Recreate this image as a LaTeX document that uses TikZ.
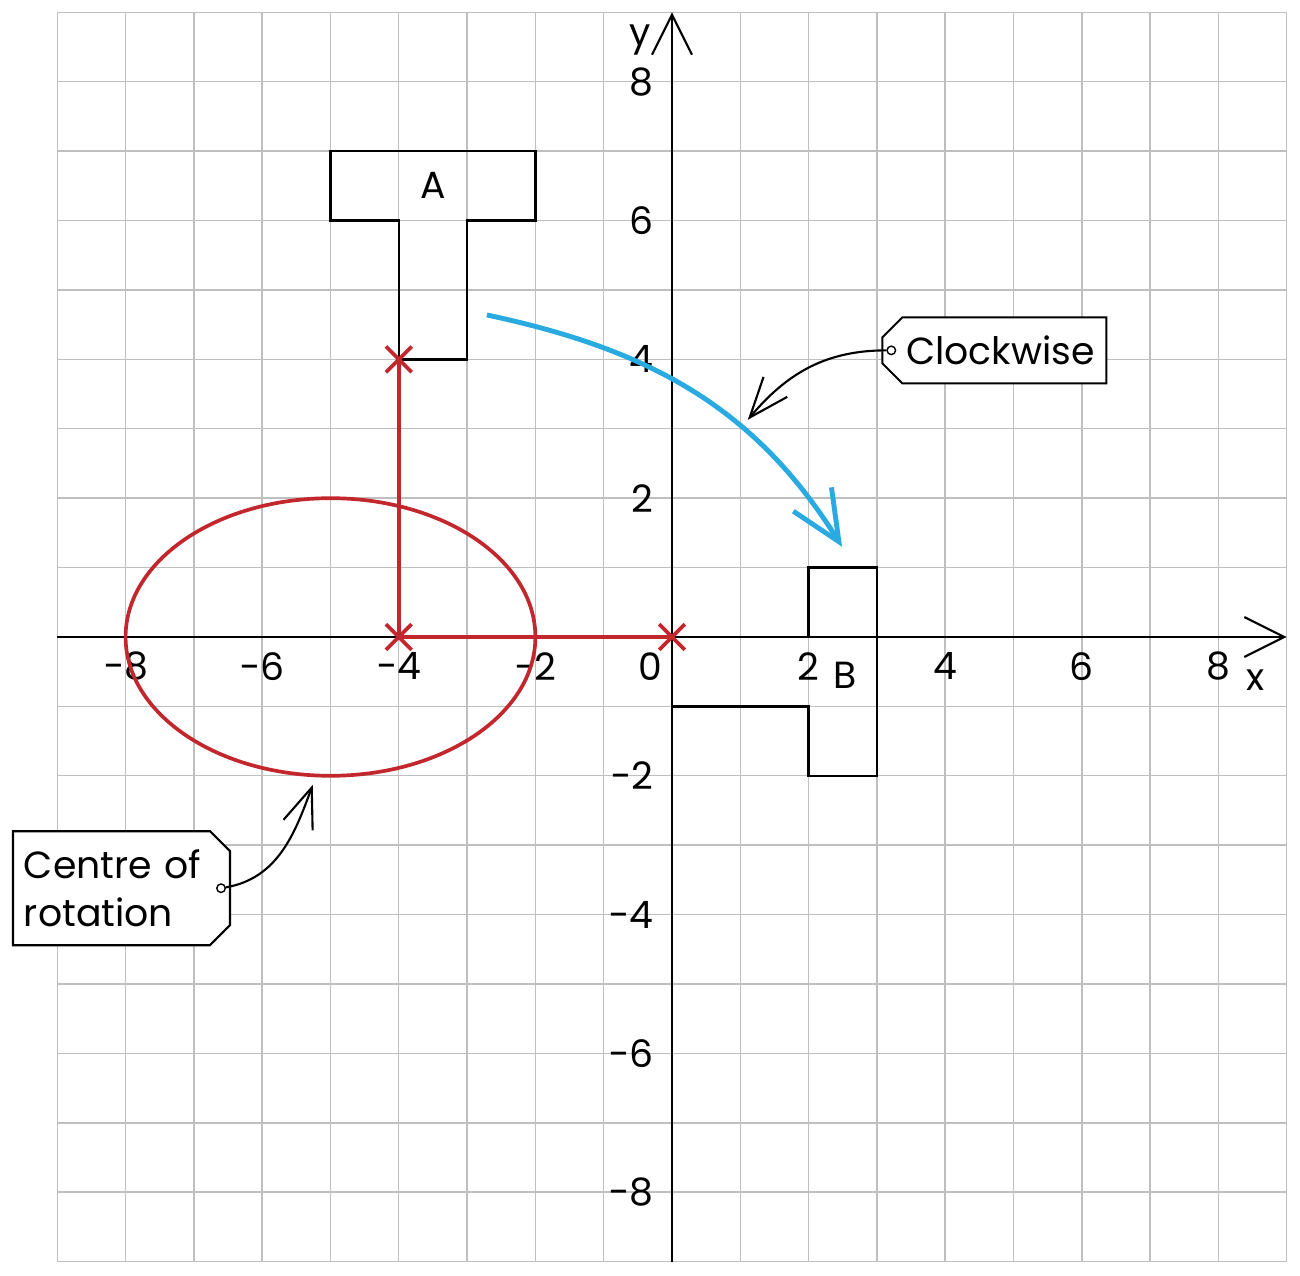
\documentclass[tikz,border=0pt]{standalone}
\usepackage{fontspec}
\setmainfont{Poppins}
\usetikzlibrary{arrows.meta,shapes.misc}
\definecolor{cwblue}{RGB}{41,171,226}
\definecolor{rotred}{RGB}{193,39,45}
\begin{document}
\begin{tikzpicture}[x=1.366cm,y=1.388cm,
  font=\fontsize{21.5}{27}\selectfont,
  gridline/.style={draw=black!25,line width=0.8pt},
  axisline/.style={line width=1.2pt,-{Straight Barb[length=0.8cm,width=0.8cm]}},
  shapeline/.style={line width=1.3pt},
  redline/.style={rotred,line width=2.1pt},
  crossmark/.style={cross out,draw=rotred,line width=2.1pt,minimum size=0.44cm,inner sep=0pt},
  tagbox/.style={chamfered rectangle,draw,line width=1.2pt,fill=white,
    chamfered rectangle xsep=0.2cm,chamfered rectangle ysep=0.2cm,inner sep=0pt},
  hole/.style={circle,draw,line width=0.8pt,fill=white,minimum size=0.17cm,inner sep=0pt},
  pointer/.style={line width=1.2pt,-{Straight Barb[length=0.8cm,width=0.62cm]}},
  turnarrow/.style={cwblue,line width=2.8pt,-{Straight Barb[length=1cm,width=0.9cm]}}]
  \useasboundingbox (-13.44cm,-12.78cm) rectangle (12.56cm,12.74cm);
  % grid and axes
  \foreach \k in {-9,...,9} {
    \draw [gridline] (\k,-9) -- (\k,9);
    \draw [gridline] (-9,\k) -- (9,\k);
  }
  \draw [axisline] (-9,0) -- (9,0);
  \draw [axisline] (0,-9) -- (0,9);
  \node (xlab) at (8.54,-0.62) {x};
  \node (ylab) at (-0.47,8.6) {y};
  \foreach \v/\t [count=\i] in {-8/−8,-6/−6,-4/−4,-2/−2,2/2,4/4,6/6,8/8} {
    \node (xtick\i) at (\v,-0.42) {\t};
    \node [anchor=east] (ytick\i) at (-0.18,\v) {\t};
  }
  \node (zero) at (-0.32,-0.42) {0};
  % shape A and its image B
  \draw [shapeline] (-5,7) -- (-2,7) -- (-2,6) -- (-3,6) -- (-3,4) -- (-4,4) -- (-4,6) -- (-5,6) -- cycle;
  \draw [shapeline] (3,1) -- (3,-2) -- (2,-2) -- (2,-1) -- (0,-1) -- (0,0) -- (2,0) -- (2,1) -- cycle;
  \node (A) at (-3.5,6.5) {A};
  \node (B) at (2.53,-0.55) {B};
  % centre of rotation
  \draw [redline] (-5,0) ellipse [x radius=3,y radius=2];
  \node [crossmark] (atip) at (-4,4) {};
  \node [crossmark] (centre) at (-4,0) {};
  \node [crossmark] (origin) at (0,0) {};
  \draw [redline] (atip.center) -- (centre.center) -- (origin.center);
  % turning arrow
  \coordinate (turnstart) at (-2.71,4.64);
  \coordinate (turnend) at (2.49,1.3);
  \draw [turnarrow] (turnstart) to[out=-12,in=122] (turnend);
  % labels
  \node [tagbox,chamfered rectangle corners={north west,south west},
    minimum width=4.48cm,minimum height=1.32cm] (cw) at (4.72,4.13) {\hspace*{0.24cm}Clockwise};
  \node [hole] (cwhole) at ([xshift=0.2cm]cw.west) {};
  \coordinate (cwtip) at (1.11,3.13);
  \draw [pointer] (cwhole) to[out=180,in=50] (cwtip);
  \node [tagbox,chamfered rectangle corners={north east,south east},align=left,
    text width=3.9cm,minimum width=4.34cm,minimum height=2.28cm] (cr) at (-8.06,-3.62) {Centre of\\rotation};
  \node [hole] (crhole) at ([xshift=-0.2cm]cr.east) {};
  \coordinate (crtip) at (-5.26,-2.13);
  \draw [pointer] (crhole) to[out=10,in=250] (crtip);
\end{tikzpicture}
\end{document}
